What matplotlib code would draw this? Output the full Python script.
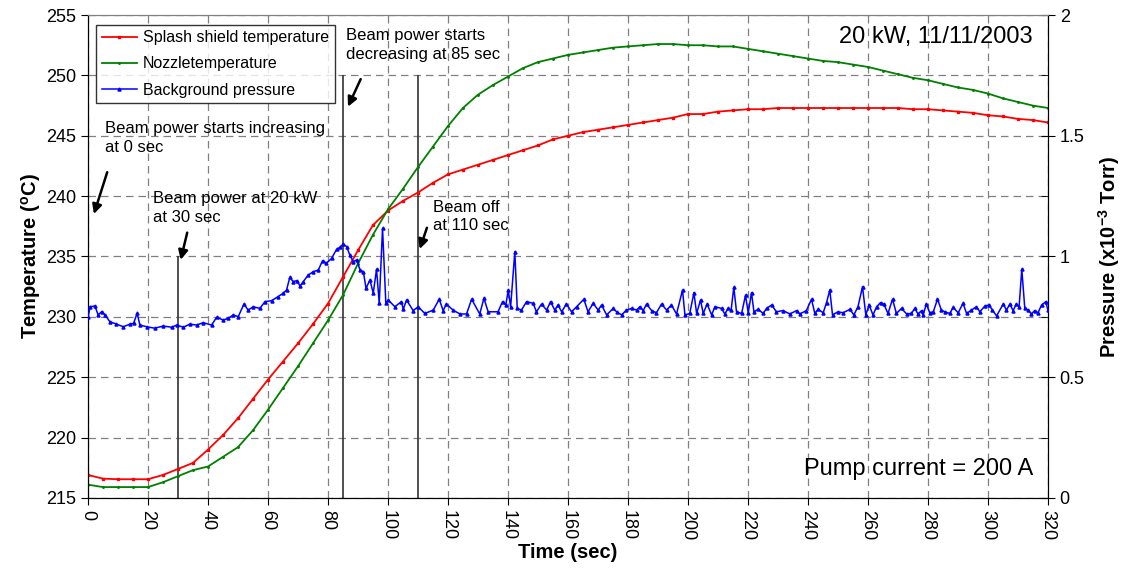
import matplotlib
matplotlib.use('Agg')
import matplotlib.pyplot as plt
from matplotlib.ticker import MultipleLocator

plt.rcParams['font.family'] = ['Liberation Sans', 'DejaVu Sans']
plt.rcParams['mathtext.fontset'] = 'custom'
plt.rcParams['mathtext.rm'] = 'Liberation Sans'
plt.rcParams['mathtext.bf'] = 'Liberation Sans:bold'

# temperatures every 5 sec
temp_time = list(range(0, 325, 5))
splash_temp = [216.9, 216.6, 216.55, 216.55, 216.55, 216.9, 217.4, 217.9, 219.0, 220.2,
               221.6, 223.2, 224.8, 226.3, 227.8, 229.4, 231.1, 233.3, 235.5, 237.6,
               238.8, 239.6, 240.3, 241.1, 241.8, 242.2, 242.6, 243.0, 243.4, 243.8,
               244.2, 244.7, 245.0, 245.3, 245.5, 245.7, 245.9, 246.1, 246.3, 246.5,
               246.8, 246.8, 247.0, 247.1, 247.2, 247.2, 247.3, 247.3, 247.3, 247.3,
               247.3, 247.3, 247.3, 247.3, 247.3, 247.2, 247.2, 247.1, 247.0, 246.9,
               246.7, 246.6, 246.4, 246.3, 246.1]
nozzle_temp = [216.1, 215.9, 215.9, 215.9, 215.9, 216.3, 216.8, 217.3, 217.6, 218.4,
               219.2, 220.6, 222.3, 224.1, 225.9, 227.8, 229.7, 231.8, 234.4, 236.8,
               238.9, 240.6, 242.4, 244.1, 245.8, 247.3, 248.4, 249.2, 249.9, 250.6,
               251.1, 251.4, 251.7, 251.9, 252.1, 252.3, 252.4, 252.5, 252.6, 252.6,
               252.5, 252.5, 252.4, 252.4, 252.2, 252.0, 251.8, 251.6, 251.4, 251.2,
               251.1, 250.9, 250.7, 250.4, 250.1, 249.8, 249.6, 249.3, 249.0, 248.8,
               248.5, 248.1, 247.8, 247.5, 247.3]

press_time = [0.1, 0.7, 2.3, 3.4, 4.6, 5.7, 7.3, 9.5, 11.8, 14, 15.2, 16.4, 17.3, 19.6, 22.3,
              25.1, 27.9, 29.6, 31.8, 34, 36.2, 38.4, 41.2, 42.9, 45.1, 46.8, 48.4, 50.1, 52,
              53.4, 55.1, 57.3, 59, 61.2, 63.4, 65.1, 66.2, 67.3, 68.4, 69.6, 70.7, 71.8, 73.4,
              75.1, 76.8, 78.2, 79.5, 81.2, 82.9, 84, 85.1, 86.2, 87.3, 88.4, 89.6, 90.7, 91.8,
              92.7, 94, 95.1, 96.2, 97.1, 98.2, 99.3,
              100.1, 102.3, 104.5, 105.1, 106.2, 108.4, 110.1, 112.3, 115.1, 117.1, 118.4,
              119.5, 121.7, 124, 126.2, 127.9, 130.6, 132, 133.4, 136.7, 138.2, 139.3, 140.1,
              140.9, 142.3, 143.1, 144.5, 146.2, 148.4, 149.5, 151.2, 152.9, 154.2, 155.6,
              156.7, 157.9, 159.5, 161.2, 162.9, 165.3, 166.7, 168.4, 170.1, 171.2, 172.9,
              175.1, 176.2, 177.9, 179.5, 181.2, 182.9, 184, 185.1, 186.2, 187.9, 189.5,
              191.2, 192.9, 194.5, 196.2, 198.2, 199, 200.6, 202, 202.9, 204.2, 205.1, 206.4,
              207.9, 209, 211.2, 212.3, 213.4, 214.4, 215.3, 216.2, 217.9, 219.2, 220.1,
              221.2, 222, 223.4, 225.1, 226.2, 227.9, 229.5, 231.7, 234, 236.2, 237.3, 239.5,
              241.2, 242.3, 243.4, 245.1, 246.2, 247.3, 248.2, 250, 251.7, 254, 255.3, 256.7,
              258.2, 259.3, 260.4, 261.7, 262.9, 264.2, 265.3, 266.7, 268.2, 269.5, 271.2,
              272.9, 274.5, 275.6, 276.7, 277.9, 278.4, 279.5, 280.6, 281.8, 283.2, 284.5,
              285.6, 287.3, 288.4, 290.1, 291.7, 292.9, 294.5, 296.2, 297.3, 299, 300.4,
              301.5, 302.9, 305.1, 306.2, 307.3, 308.4, 309.5, 310.4, 311.3, 312.3, 313.4,
              314.5, 315.6, 316.7, 317.9, 319.3, 320]
pressure = [0.751, 0.792, 0.795, 0.758, 0.772, 0.758, 0.730, 0.720, 0.709, 0.720, 0.723, 0.765,
            0.716, 0.709, 0.703, 0.712, 0.707, 0.716, 0.707, 0.720, 0.716, 0.726, 0.716, 0.748,
            0.737, 0.744, 0.758, 0.751, 0.803, 0.778, 0.792, 0.785, 0.813, 0.817, 0.834, 0.848,
            0.861, 0.914, 0.896, 0.900, 0.878, 0.896, 0.923, 0.937, 0.944, 0.983, 0.972, 0.992,
            1.030, 1.038, 1.052, 1.041, 1.006, 0.979, 0.986, 0.944, 0.937, 0.868, 0.903, 0.848,
            0.947, 0.806, 1.117, 0.806,
            0.820, 0.792, 0.813, 0.781, 0.820, 0.776, 0.792, 0.764, 0.778, 0.823, 0.776,
            0.803, 0.778, 0.762, 0.762, 0.823, 0.762, 0.827, 0.771, 0.771, 0.813, 0.799, 0.861,
            0.792, 1.020, 0.785, 0.778, 0.813, 0.806, 0.771, 0.803, 0.778, 0.813, 0.778,
            0.799, 0.771, 0.803, 0.771, 0.792, 0.823, 0.771, 0.806, 0.778, 0.799, 0.758,
            0.785, 0.771, 0.758, 0.778, 0.785, 0.778, 0.792, 0.776, 0.803, 0.776, 0.767,
            0.803, 0.778, 0.799, 0.762, 0.861, 0.758, 0.764, 0.850, 0.764, 0.820, 0.764, 0.803,
            0.758, 0.792, 0.785, 0.762, 0.785, 0.778, 0.872, 0.771, 0.764, 0.840, 0.767,
            0.850, 0.771, 0.781, 0.764, 0.785, 0.799, 0.771, 0.776, 0.762, 0.776, 0.762, 0.776,
            0.823, 0.764, 0.781, 0.767, 0.809, 0.861, 0.758, 0.771, 0.767, 0.781, 0.758, 0.792,
            0.875, 0.758, 0.799, 0.758, 0.792, 0.809, 0.803, 0.764, 0.823, 0.764, 0.785,
            0.762, 0.764, 0.785, 0.762, 0.776, 0.758, 0.803, 0.767, 0.771, 0.823, 0.778,
            0.771, 0.764, 0.789, 0.767, 0.806, 0.764, 0.778, 0.792, 0.771, 0.795, 0.799,
            0.778, 0.754, 0.803, 0.778, 0.803, 0.776, 0.803, 0.792, 0.947, 0.785, 0.778,
            0.762, 0.776, 0.767, 0.799, 0.813, 0.778]

press_ticks = [0, 0.5, 1, 1.5, 2]
press_labels = ['0', '0.5', '1', '1.5', '2']

event_times = [30, 85, 110]
event_tops = [235, 250, 250]

notes = ['Beam power starts increasing\nat 0 sec', 'Beam power at 20 kW\nat 30 sec',
         'Beam power starts\ndecreasing at 85 sec', 'Beam off\nat 110 sec']
note_pos = [(5.7, 246.2), (21.8, 240.4), (86.0, 253.9), (114.9, 239.7)]
arrow_tail = [(6.7, 242.2), (33.3, 237.2), (91.3, 249.9), (113.3, 237.6)]
arrow_head = [(1.7, 238.3), (30.7, 234.5), (86.3, 247.2), (110.3, 235.4)]

fig = plt.figure(figsize=(11.32, 5.79), dpi=100)
ax = fig.add_axes([0.0777, 0.140, 0.848, 0.834])
ax2 = ax.twinx()

ax.set_xlim(0, 320)
ax.set_ylim(215, 255)
ax2.set_ylim(0, 2)

ax.grid(True, color='#808080', linestyle=(0, (6, 4)), linewidth=0.9)
ax.xaxis.set_major_locator(MultipleLocator(20))
ax.yaxis.set_major_locator(MultipleLocator(5))
ax2.set_yticks(press_ticks, press_labels)
ax2.yaxis.set_minor_locator(MultipleLocator(0.25))

ax.vlines(event_times, 215, event_tops, colors='#333333', linewidth=1.2, zorder=2)

l1, = ax.plot(temp_time, splash_temp, color='red', marker='s', markersize=1.6, linewidth=1.3,
              label='Splash shield temperature', zorder=4)
l2, = ax.plot(temp_time, nozzle_temp, color='green', marker='.', markersize=2.2, linewidth=1.3,
              label='Nozzletemperature', zorder=4)
l3, = ax2.plot(press_time, pressure, color='blue', marker='^', markersize=2.2, linewidth=1.1,
               label='Background pressure', zorder=3)

for txt, pos in zip(notes, note_pos):
    ax.text(pos[0], pos[1], txt, fontsize=12, va='top', ha='left', linespacing=1.3, zorder=6)
for tail, head in zip(arrow_tail, arrow_head):
    ax.annotate('', xy=head, xytext=tail,
                arrowprops=dict(arrowstyle='-|>', color='black', lw=1.8, mutation_scale=14))

ax.text(315, 252.7, '20 kW, 11/11/2003', fontsize=17, ha='right', va='baseline')
ax.text(315, 216.9, 'Pump current = 200 A', fontsize=17, ha='right', va='baseline')

ax.tick_params(axis='both', labelsize=13, direction='out', length=5)
ax.tick_params(axis='x', labelrotation=-90)
ax2.tick_params(axis='y', which='major', labelsize=13, direction='inout', length=10)
ax2.tick_params(axis='y', which='minor', direction='in', length=5)

ax.set_xlabel('Time (sec)', fontsize=14.5, fontweight='bold', labelpad=2)
ax.set_ylabel('Temperature ($\\mathbf{^{o}}$C)', fontsize=14.5, fontweight='bold', labelpad=2)
ax2.set_ylabel('Pressure (x10$\\mathbf{^{-3}}$ Torr)', fontsize=14.5, fontweight='bold', labelpad=8)

for a in (ax, ax2):
    a.spines['top'].set_color('#808080')

leg = ax2.legend(handles=[l1, l2, l3], loc='upper left', bbox_to_anchor=(0.0085, 0.98),
                 fontsize=11.5, frameon=True, fancybox=False, edgecolor='black',
                 handlelength=2.2, handletextpad=0.4, borderpad=0.35, labelspacing=0.7,
                 borderaxespad=0)
leg.get_frame().set_linewidth(1.0)

fig.savefig('out.png', dpi=100)
